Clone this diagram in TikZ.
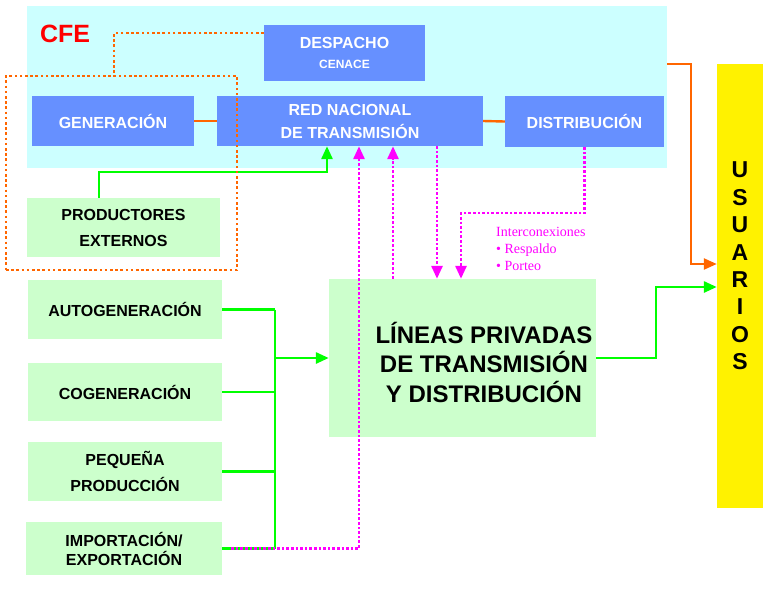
\documentclass[tikz,border=0pt]{standalone}
\usepackage{fontspec}
\setmainfont{Liberation Sans}
\newfontfamily\tnr{Liberation Serif}
\usetikzlibrary{arrows.meta}
\definecolor{cfebg}{RGB}{204,255,255}
\definecolor{bluebox}{RGB}{102,144,255}
\definecolor{greenbox}{RGB}{204,255,204}
\definecolor{gline}{RGB}{0,255,0}
\definecolor{oline}{RGB}{255,102,0}
\definecolor{mline}{RGB}{255,0,255}
\begin{document}
\begin{tikzpicture}[x=1pt,y=-1pt,
  bbox/.style={fill=bluebox, text=white, font=\bfseries\fontsize{16}{23}\selectfont, align=center, inner sep=0pt},
  gbox/.style={fill=greenbox, text=black, font=\bfseries\fontsize{16}{26}\selectfont, align=center, inner sep=0pt},
  tip/.style={-{Triangle[length=13pt,width=11pt]}},
  gconn/.style={draw=gline, line width=2.8pt},
  garrow/.style={gconn, tip},
  oconn/.style={draw=oline, line width=2.4pt},
  oarrow/.style={oconn, tip},
  odot/.style={draw=oline, line width=2.6pt, dash pattern=on 2.6pt off 2.6pt},
  marrow/.style={draw=mline, line width=2.8pt, dash pattern=on 2.6pt off 2pt, tip}
]
\useasboundingbox (0,0) rectangle (780,590);
% background
\node[fill=cfebg, minimum width=640pt, minimum height=162pt, inner sep=0pt] (bg) at (347,87) {};
\node[font=\bfseries\fontsize{25}{30}\selectfont, text=red, inner sep=0pt] (cfe) at (65,34) {CFE};
% blue boxes
\node[bbox, font=\bfseries\fontsize{16}{20}\selectfont, minimum width=161pt, minimum height=56pt] (desp) at (344.5,53) {DESPACHO\\{\fontsize{12}{13}\selectfont CENACE}};
\node[bbox, minimum width=162pt, minimum height=50pt] (gen) at (113,121) {GENERACIÓN};
\node[bbox, minimum width=266pt, minimum height=50pt] (red) at (350,121) {RED NACIONAL\\DE TRANSMISIÓN};
\node[bbox, minimum width=159pt, minimum height=51pt] (dist) at (584.5,121.5) {DISTRIBUCIÓN};
% green boxes
\node[gbox, minimum width=193pt, minimum height=59pt] (prod) at (123.5,227.5) {PRODUCTORES\\EXTERNOS};
\node[gbox, minimum width=194pt, minimum height=59pt] (auto) at (125,309.5) {AUTOGENERACIÓN};
\node[gbox, minimum width=194pt, minimum height=58pt] (cogen) at (125,392) {COGENERACIÓN};
\node[gbox, minimum width=194pt, minimum height=59pt] (peq) at (125,471.5) {PEQUEÑA\\PRODUCCIÓN};
\node[gbox, font=\bfseries\fontsize{16}{19}\selectfont, minimum width=196pt, minimum height=53pt] (imp) at (124,548.5) {IMPORTACIÓN/\\EXPORTACIÓN};
\node[fill=greenbox, minimum width=267pt, minimum height=158pt, inner sep=0pt] (lin) at (462.5,358) {};
\node[font=\bfseries\fontsize{24}{29.5}\selectfont, align=center, inner sep=0pt] (lintext) at (484,362) {LÍNEAS PRIVADAS\\DE TRANSMISIÓN\\Y DISTRIBUCIÓN};
% usuarios
\node[fill=yellow, minimum width=46pt, minimum height=444pt, inner sep=0pt] (usu) at (740,286) {};
\node[font=\bfseries\fontsize{23}{27.4}\selectfont, align=center, inner sep=0pt] (usutext) at (740,266) {U\\S\\U\\A\\R\\I\\O\\S};
% interconexiones
\node[font=\tnr\fontsize{14}{17}\selectfont, text=mline, align=left, anchor=west, inner sep=0pt] (inter) at (496,249) {Interconexiones\\\textbullet\ Respaldo\\\textbullet\ Porteo};
% helper coordinates
\coordinate (dd) at (114,33);
\coordinate (p0) at (99,0);
\coordinate (p1) at (327,172);
\coordinate (i1) at (359,0);
\coordinate (m1) at (393,0);
\coordinate (m2) at (437,0);
\coordinate (m3) at (461,213);
\coordinate (o1) at (691,64);
\coordinate (u1) at (0,264);
\coordinate (g1) at (656,287);
\coordinate (bus) at (275,358);
% orange solid
\draw[oconn] (gen.east) -- (red.west);
\draw[oconn] (red.east) -- (dist.west);
\draw[oarrow] (bg.east |- o1) -- (o1) |- (usu.west |- u1);
% green
\draw[garrow] (prod.north -| p0) |- (p1) -- (p1 |- red.south);
\draw[gconn] (auto.east) -- (auto.east -| bus);
\draw[gconn] (cogen.east) -- (cogen.east -| bus);
\draw[gconn] (peq.east) -- (peq.east -| bus);
\draw[gconn] (imp.east) -- (imp.east -| bus);
\draw[gconn] (auto.east -| bus) -- (imp.east -| bus);
\draw[garrow] (bus) -- (lin.west);
\draw[garrow] (lin.east) -| (g1) -- (g1 -| usu.west);
% magenta dotted
\draw[marrow] ([xshift=9pt]imp.east) -| (i1 |- red.south);
\draw[marrow] (lin.north -| m1) -- (red.south -| m1);
\draw[marrow] (red.south -| m2) -- (lin.north -| m2);
\draw[marrow] (dist.south) |- (m3) -- (m3 |- lin.north);
% orange dotted group
\node[odot, minimum width=231pt, minimum height=194pt, inner sep=0pt] (grp) at (121.5,173) {};
\draw[odot] (desp.west |- dd) -- (dd) -- (dd |- grp.north);
\end{tikzpicture}
\end{document}
